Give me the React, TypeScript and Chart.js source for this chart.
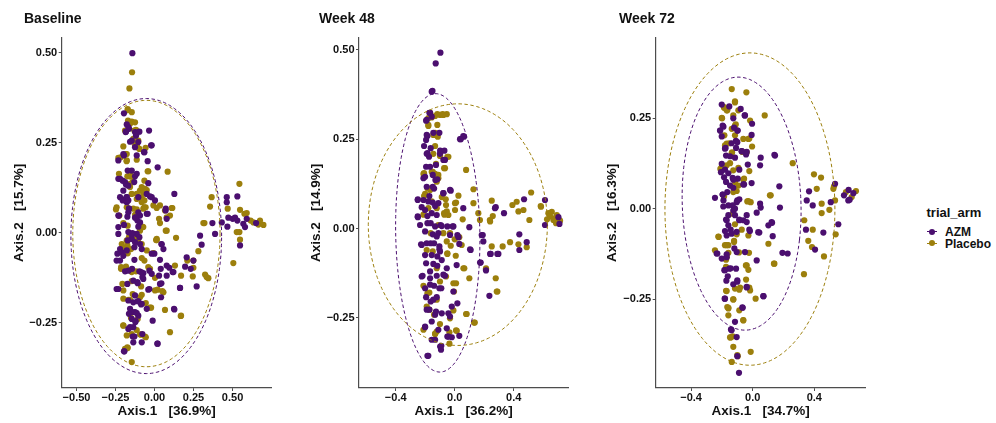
import React, { useEffect, useRef } from "react";
import { Chart, registerables } from "chart.js";

Chart.register(...registerables);

type Pt = [number, number];

// ---------------- DATA ----------------
const armNames = ["AZM", "Placebo"];
const panelTitles = ["Baseline", "Week 48", "Week 72"];
const xAxisTitles = ["Axis.1   [36.9%]", "Axis.1   [36.2%]", "Axis.1   [34.7%]"];
const yAxisTitles = ["Axis.2   [15.7%]", "Axis.2   [14.9%]", "Axis.2   [16.3%]"];

const baselineXTicks = [-0.5, -0.25, 0, 0.25, 0.5];
const baselineYTicks = [-0.25, 0, 0.25, 0.5];
const week48XTicks = [-0.4, 0, 0.4];
const week48YTicks = [-0.25, 0, 0.25, 0.5];
const week72XTicks = [-0.4, 0, 0.4];
const week72YTicks = [-0.25, 0, 0.25];

const baselineXRange = [-0.595, 0.751];
const baselineYRange = [-0.431, 0.542];
const week48XRange = [-0.649, 0.77];
const week48YRange = [-0.446, 0.534];
const week72XRange = [-0.63, 0.734];
const week72YRange = [-0.496, 0.473];

const baselineAZM: Pt[] = [
  [-0.142, 0.499], [-0.196, 0.332], [-0.178, 0.301], [-0.183, 0.281], [-0.163, 0.289], [-0.125, 0.28], [-0.097, 0.281], [-0.035, 0.284], [-0.119, 0.27], [-0.146, 0.256], [-0.125, 0.238], [-0.114, 0.215], [-0.022, 0.243], [-0.067, 0.224], [-0.157, 0.253], [-0.196, 0.215], [0.02, 0.182], [-0.232, 0.15], [-0.204, 0.145], [-0.189, 0.141], [-0.183, 0.134], [-0.168, 0.131], [-0.114, 0.164], [-0.146, 0.173], [-0.125, 0.157], [-0.04, 0.138], [-0.05, 0.108], [0.127, 0.108], [-0.221, 0.099], [-0.204, 0.09], [-0.196, 0.092], [-0.178, 0.099], [-0.018, 0.099], [-0.163, 0.067], [0.072, 0.067], [0.463, 0.099], [0.531, 0.101], [0.463, 0.085],
  [-0.178, 0.085], [-0.232, 0.048], [-0.168, 0.057], [-0.125, 0.042], [-0.11, 0.034], [-0.093, 0.048], [-0.05, 0.053], [-0.196, 0.022], [-0.232, 0.016], [-0.168, 0.002], [-0.114, -0.003], [-0.146, -0.017], [-0.125, -0.026], [-0.097, -0.012], [-0.238, -0.058], [-0.21, -0.054], [-0.178, -0.049], [-0.129, -0.04], [-0.082, -0.045], [-0.018, -0.058], [0.044, -0.031], [0.057, -0.045], [-0.243, -0.077], [-0.221, -0.077], [-0.189, -0.107], [-0.144, -0.1], [-0.097, -0.107], [-0.072, -0.112], [-0.033, -0.105], [0.04, -0.1], [0.078, -0.091], [0.116, -0.109], [0.196, -0.094], [0.232, -0.1], [-0.243, -0.156], [-0.174, -0.142], [-0.136, -0.133], [-0.11, -0.137], [-0.072, -0.128], [-0.033, -0.156], [0.044, -0.14], [0.163, -0.153], [0.27, -0.149], [-0.168, -0.188], [-0.136, -0.193], [-0.108, -0.19], [-0.082, -0.197], [-0.157, -0.211], [-0.125, -0.22], [-0.104, -0.23], [-0.05, -0.211], [-0.146, -0.239], [-0.123, -0.248], [-0.136, -0.262], [-0.168, -0.267], [-0.14, -0.288], [-0.082, -0.304], [-0.012, -0.244], [0.018, -0.308], [-0.196, -0.329], [0.125, -0.211], [0.371, 0.027], [0.388, -0.003], [0.431, 0.029], [0.467, 0.017], [0.473, 0.042], [0.501, 0.039], [0.516, 0.042], [0.531, 0.034], [0.569, 0.025], [0.58, 0.016], [0.591, 0.039], [0.651, 0.027], [0.548, -0.035], [0.302, -0.033], [0.292, -0.008],
  [-0.168, 0.294], [-0.185, 0.28], [-0.115, 0.275], [-0.104, 0.252], [-0.018, 0.243], [-0.065, 0.224], [-0.2, 0.219], [-0.232, 0.201], [-0.044, 0.199], [-0.172, 0.173], [-0.221, 0.15], [-0.13, 0.141], [-0.2, 0.117], [-0.179, 0.099], [-0.168, 0.09], [-0.104, 0.099], [-0.029, 0.101], [0.003, 0.09], [-0.164, 0.067], [-0.104, 0.057], [-0.044, 0.053], [-0.228, 0.048], [-0.174, 0.045], [-0.121, 0.043], [-0.093, 0.029], [-0.104, 0.017], [0.078, 0.039], [0.071, 0.062], [-0.232, -0.003], [-0.142, -0.001],
  [-0.146, -0.005], [-0.172, -0.021], [-0.093, -0.031], [-0.221, -0.045], [-0.2, -0.064], [0.046, -0.032], [-0.001, -0.058], [-0.129, -0.075], [0.206, -0.068], [0.249, -0.077], [0.035, -0.075], [-0.167, -0.105], [-0.086, -0.109], [-0.078, -0.123], [-0.018, -0.114], [0.029, -0.119], [0.078, -0.119], [0.121, -0.109], [0.095, -0.097], [-0.108, -0.14], [0.035, -0.142], [0.164, -0.153], [-0.232, -0.156], [-0.04, -0.158], [-0.125, -0.174], [0.042, -0.179], [-0.104, -0.19], [-0.086, -0.199], [-0.142, -0.22], [-0.114, -0.223], [-0.164, -0.225], [0.127, -0.213], [-0.121, -0.245], [-0.157, -0.262], [-0.129, -0.288], [-0.078, -0.281], [-0.136, -0.304], [0.02, -0.308], [-0.193, -0.329],
];

const baselinePlacebo: Pt[] = [
  [-0.144, 0.446], [-0.161, 0.401], [-0.172, 0.341], [-0.17, 0.312], [-0.146, 0.309], [-0.125, 0.307], [-0.119, 0.286], [-0.189, 0.284], [-0.136, 0.261], [-0.2, 0.24], [-0.119, 0.247], [-0.11, 0.238], [-0.097, 0.233], [-0.178, 0.219], [-0.232, 0.208], [-0.217, 0.21], [-0.178, 0.201], [-0.04, 0.171], [0.084, 0.17], [-0.228, 0.164], [-0.174, 0.157], [-0.153, 0.167], [-0.14, 0.141], [-0.157, 0.127], [-0.061, 0.122], [-0.093, 0.117], [-0.072, 0.113], [-0.146, 0.108], [-0.114, 0.094], [-0.082, 0.099], [-0.065, 0.09], [-0.247, 0.065], [-0.072, 0.067], [0.114, 0.069], [0.366, 0.099], [0.469, 0.067], [0.544, 0.136], [0.548, 0.064],
  [-0.243, 0.071], [-0.225, 0.048], [-0.178, 0.071], [-0.136, 0.067], [-0.057, 0.071], [-0.007, 0.076], [0.035, 0.076], [0.067, 0.062], [0.099, 0.048], [-0.072, 0.016], [-0.093, 0.006], [-0.114, -0.008], [-0.14, -0.012], [-0.178, -0.021], [-0.21, -0.031], [-0.174, -0.035], [-0.151, -0.045], [-0.082, -0.031], [-0.05, -0.049], [-0.007, -0.056], [0.01, -0.02], [0.072, 0.006], [0.313, 0.027], [0.356, 0.073], [0.035, 0.027], [0.078, 0.043], [-0.215, -0.1], [-0.183, -0.094], [-0.146, -0.109], [-0.119, -0.107], [-0.065, -0.077], [-0.04, -0.095], [0.003, -0.125], [0.17, -0.119], [0.21, -0.077], [0.249, -0.077], [0.281, -0.051], [0.245, -0.121], [0.324, -0.116], [0.345, -0.126], [-0.2, -0.16], [-0.168, -0.186], [-0.14, -0.17], [-0.082, -0.172], [-0.029, -0.208], [0.003, -0.16], [0.057, -0.165], [0.067, -0.214], [-0.2, -0.258], [-0.178, -0.285], [-0.146, -0.281], [-0.093, -0.282], [-0.061, -0.288], [0.099, -0.276], [0.168, -0.231], [-0.189, -0.322], [-0.174, -0.318], [-0.146, -0.359], [0.505, -0.084], [0.527, 0.002], [0.548, -0.019], [0.576, 0.053], [0.591, 0.055], [0.616, 0.034], [0.634, 0.029], [0.666, 0.023], [0.698, 0.022], [0.676, 0.034], [0.544, 0.002],
  [-0.172, 0.344], [-0.146, 0.335], [-0.157, 0.303], [-0.13, 0.284], [-0.104, 0.256], [-0.125, 0.242], [-0.057, 0.236], [-0.185, 0.219], [-0.179, 0.199], [-0.114, 0.203], [-0.151, 0.156], [-0.044, 0.171], [-0.157, 0.136], [-0.082, 0.127], [-0.05, 0.119], [-0.065, 0.145], [-0.114, 0.108], [-0.082, 0.085], [-0.065, 0.071], [-0.114, 0.065], [0.014, 0.069], [0.11, 0.069], [-0.125, 0.05], [0.029, 0.039], [-0.2, 0.027], [-0.172, 0.02], [-0.078, 0.017], [-0.104, -0.012], [0.014, -0.017], [0.078, 0.006], [0.32, 0.027],
  [-0.164, -0.012], [-0.104, -0.017], [0.014, -0.02], [0.138, -0.014], [-0.206, -0.04], [-0.172, -0.057], [-0.082, -0.07], [-0.029, -0.1], [-0.214, -0.095], [-0.185, -0.103], [0.131, -0.091], [0.249, -0.097], [0.334, -0.123], [-0.206, -0.142], [-0.146, -0.134], [-0.086, -0.149], [0.02, -0.158], [0.05, -0.162], [-0.2, -0.183], [-0.157, -0.186], [-0.056, -0.195], [-0.093, -0.179], [-0.022, -0.208], [0.17, -0.23], [-0.151, -0.236], [-0.108, -0.239], [-0.2, -0.257], [-0.114, -0.27], [-0.086, -0.283], [-0.056, -0.29], [-0.172, -0.32],
];

const week48AZM: Pt[] = [
  [-0.097, 0.492], [-0.129, 0.462], [-0.151, 0.385], [-0.167, 0.324], [-0.19, 0.304], [-0.156, 0.313], [-0.185, 0.259], [-0.194, 0.248], [-0.208, 0.231], [-0.19, 0.209], [-0.174, 0.201], [-0.099, 0.218], [-0.07, 0.218], [-0.066, 0.192], [-0.194, 0.173], [-0.167, 0.173], [-0.201, 0.145], [-0.149, 0.15], [-0.131, 0.136], [-0.19, 0.117], [-0.14, 0.112], [-0.077, 0.099], [-0.027, 0.106], [-0.251, 0.08], [-0.212, 0.08], [-0.179, 0.076], [-0.149, 0.073], [-0.111, 0.071], [0.041, 0.25], [0.063, 0.257], [0.278, 0.06], [0.47, 0.082], [0.612, 0.08],
  [-0.251, 0.034], [-0.201, 0.052], [-0.156, 0.043], [-0.122, 0.038], [-0.235, 0.01], [-0.185, 0.015], [-0.133, 0.006], [-0.095, 0.01], [-0.05, 0.006], [-0.014, 0.006], [-0.201, -0.008], [-0.149, -0.016], [-0.111, -0.013], [-0.032, -0.018], [-0.228, -0.044], [-0.19, -0.041], [-0.14, -0.041], [-0.104, -0.05], [-0.201, -0.074], [-0.156, -0.074], [-0.118, -0.078], [-0.194, -0.097], [-0.145, -0.099], [-0.088, -0.088], [-0.054, -0.111], [-0.224, -0.134], [-0.167, -0.139], [-0.122, -0.132], [-0.066, -0.132], [-0.201, -0.167], [-0.14, -0.16], [-0.104, -0.167], [-0.194, -0.192], [-0.163, -0.204], [-0.122, -0.192], [-0.02, -0.218], [-0.19, -0.227], [-0.133, -0.241], [-0.088, -0.237], [-0.043, -0.237], [-0.032, -0.246], [-0.201, -0.274], [-0.111, -0.283], [-0.054, -0.279], [-0.05, -0.302], [-0.02, -0.304], [-0.156, -0.311], [-0.099, -0.33], [-0.093, -0.339], [-0.185, -0.356], [0.108, -0.06], [0.183, -0.018], [0.194, -0.036], [0.176, -0.095], [0.24, -0.071], [0.296, -0.071], [0.235, -0.188], [0.438, -0.016], [0.488, -0.038], [0.438, -0.06], [0.612, 0.01], [0.71, 0.013], [0.703, 0.032],
  [-0.156, 0.383], [-0.172, 0.324], [-0.194, 0.302], [-0.19, 0.262], [-0.145, 0.268], [-0.104, 0.268], [0.058, 0.259], [0.036, 0.25], [-0.163, 0.225], [-0.185, 0.211], [-0.1, 0.209], [-0.077, 0.192], [-0.127, 0.178], [-0.212, 0.141], [-0.118, 0.138], [-0.149, 0.117], [-0.032, 0.108], [-0.25, 0.082], [-0.172, 0.091], [-0.077, 0.099], [-0.224, 0.06], [-0.133, 0.063], [0.058, 0.057], [0.273, 0.057], [-0.25, 0.032], [-0.185, 0.035], [-0.163, 0.015], [-0.088, 0.007], [-0.009, 0.006], [0.099, 0.004], [-0.122, -0.022], [0.025, -0.024], [0.334, 0.043],
  [0.018, -0.018], [-0.224, -0.046], [-0.163, -0.041], [-0.104, -0.058], [0.104, -0.058], [0.031, -0.043], [-0.1, -0.064], [-0.118, -0.104], [-0.167, -0.12], [-0.077, -0.129], [-0.218, -0.132], [0.013, -0.102], [0.172, -0.095], [0.212, -0.117], [-0.167, -0.157], [-0.091, -0.167], [-0.009, -0.176], [-0.145, -0.199], [0.018, -0.209], [-0.172, -0.227], [-0.127, -0.232], [-0.156, -0.26], [-0.201, -0.276], [-0.043, -0.302], [0.031, -0.3], [-0.133, -0.311], [-0.091, -0.328], [-0.179, -0.356], [0.244, -0.071], [0.289, -0.071], [0.19, -0.018],
];

const week48Placebo: Pt[] = [
  [-0.179, 0.309], [-0.156, 0.311], [-0.133, 0.315], [-0.099, 0.318], [-0.077, 0.318], [-0.054, 0.32], [-0.179, 0.287], [-0.118, 0.29], [-0.145, 0.262], [-0.133, 0.268], [-0.115, 0.257], [-0.133, 0.231], [-0.099, 0.206], [-0.043, 0.201], [-0.127, 0.181], [-0.066, 0.169], [-0.212, 0.153], [-0.149, 0.159], [-0.133, 0.153], [-0.111, 0.15], [-0.122, 0.131], [0.077, 0.164], [0.127, 0.11], [-0.201, 0.097], [-0.167, 0.108], [0.025, 0.092], [0.009, 0.073], [-0.061, 0.082], [0.251, 0.078], [0.391, 0.066], [0.42, 0.075], [0.518, 0.101], [0.585, 0.061], [-0.122, 0.057],
  [-0.212, 0.039], [-0.179, 0.057], [-0.054, 0.048], [0.002, 0.052], [-0.07, 0.039], [-0.163, -0.013], [-0.077, -0.013], [-0.054, -0.036], [0.0, -0.03], [0.047, -0.046], [-0.19, -0.06], [-0.149, -0.064], [-0.05, -0.069], [0.007, -0.076], [0.059, -0.111], [-0.122, -0.111], [-0.059, -0.134], [-0.009, -0.153], [0.009, -0.153], [-0.005, -0.176], [-0.172, -0.179], [-0.122, -0.199], [-0.19, -0.218], [-0.14, -0.241], [0.077, -0.239], [0.131, -0.263], [-0.212, -0.283], [-0.133, -0.295], [-0.122, -0.288], [-0.036, -0.29], [0.014, -0.286], [0.212, -0.111], [0.278, -0.139], [0.289, -0.176], [0.251, -0.05], [0.325, -0.05], [0.375, -0.038], [0.432, -0.044], [0.488, -0.052], [0.506, 0.024], [0.24, 0.02], [0.258, 0.035], [0.432, 0.048], [0.466, 0.052], [0.583, 0.063], [0.635, 0.043], [0.646, 0.034], [0.669, 0.024], [0.687, 0.015], [0.692, 0.038], [0.658, 0.047], [0.68, 0.029], [0.714, 0.022], [0.626, 0.026], [0.16, 0.043], [0.127, 0.071],
  [-0.167, 0.324], [-0.118, 0.32], [-0.082, 0.32], [-0.179, 0.29], [-0.127, 0.262], [-0.145, 0.209], [-0.1, 0.203], [-0.05, 0.201], [-0.072, 0.169], [-0.208, 0.155], [-0.156, 0.159], [-0.111, 0.141], [-0.185, 0.113], [-0.208, 0.091], [-0.156, 0.076], [-0.088, 0.088], [-0.059, 0.066], [0.002, 0.071], [-0.072, 0.043], [-0.043, 0.038], [0.238, 0.024], [0.171, 0.024], [0.054, 0.026], [-0.111, 0.01], [-0.032, -0.013],
  [-0.032, -0.015], [0.031, -0.024], [-0.027, -0.048], [-0.05, -0.071], [0.065, -0.111], [-0.212, -0.16], [-0.185, -0.181], [-0.1, -0.148], [0.099, -0.139], [-0.009, -0.229], [-0.032, -0.251], [0.081, -0.239], [0.136, -0.263], [-0.172, -0.227], [-0.133, -0.294], [0.009, -0.285], [-0.036, -0.322], [-0.1, -0.267], [0.285, -0.176], [0.212, -0.114],
];

const week72AZM: Pt[] = [
  [-0.201, 0.288], [-0.152, 0.283], [-0.078, 0.276], [-0.126, 0.25], [-0.052, 0.258], [-0.19, 0.227], [-0.004, 0.235], [-0.212, 0.216], [-0.201, 0.2], [-0.097, 0.216], [-0.121, 0.224], [-0.007, 0.204], [-0.18, 0.166], [-0.108, 0.168], [-0.1, 0.184], [-0.071, 0.159], [-0.039, 0.157], [-0.173, 0.147], [-0.147, 0.145], [-0.115, 0.141], [-0.032, 0.122], [0.048, 0.12], [0.141, 0.149], [-0.201, 0.124], [-0.206, 0.101], [-0.186, 0.087], [-0.13, 0.085], [-0.097, 0.083], [-0.173, 0.074], [-0.061, 0.067], [-0.007, 0.071], [-0.147, 0.064], [-0.126, 0.058], [0.173, 0.062], [-0.165, 0.046], [-0.195, 0.039], [-0.245, 0.03], [-0.087, 0.026], [-0.19, 0.023], [-0.104, 0.018], [0.366, 0.048], [0.351, 0.023], [0.39, 0.009], [0.535, 0.069], [0.593, 0.037], [0.623, 0.052], [0.63, 0.025], [0.654, 0.043], [0.052, 0.003], [0.177, 0.003],
  [-0.158, 0.009], [-0.115, 0.0], [-0.039, -0.018], [0.026, -0.011], [-0.158, -0.018], [-0.173, -0.03], [-0.115, -0.018], [-0.087, -0.032], [-0.061, -0.032], [-0.158, -0.046], [-0.18, -0.062], [-0.143, -0.058], [-0.104, -0.064], [-0.022, -0.058], [0.043, -0.066], [0.102, -0.046], [0.126, -0.039], [0.13, -0.076], [-0.169, -0.074], [-0.234, -0.124], [-0.201, -0.138], [-0.169, -0.134], [-0.119, -0.11], [-0.104, -0.12], [-0.05, -0.12], [0.026, -0.143], [0.193, -0.122], [0.227, -0.124], [-0.184, -0.17], [-0.152, -0.166], [-0.108, -0.166], [-0.162, -0.187], [-0.1, -0.198], [-0.126, -0.209], [-0.039, -0.218], [-0.18, -0.249], [0.069, -0.242], [-0.067, -0.273], [-0.115, -0.313], [-0.141, -0.334], [-0.104, -0.355], [-0.089, -0.454], [0.346, -0.058], [0.459, -0.066], [0.405, -0.113], [0.556, -0.043], [0.507, 0.018], [0.621, 0.023],
  [-0.195, 0.23], [-0.211, 0.216], [-0.1, 0.216], [-0.05, 0.258], [-0.137, 0.181], [-0.109, 0.188], [-0.176, 0.168], [-0.072, 0.159], [-0.043, 0.15], [0.052, 0.141], [0.145, 0.147], [-0.18, 0.108], [-0.158, 0.098], [-0.087, 0.108], [-0.056, 0.067], [-0.126, 0.08], [-0.195, 0.039], [-0.1, 0.023], [0.048, 0.014], [-0.191, 0.006], [-0.13, 0.009], [-0.126, -0.005], [-0.169, -0.032], [-0.087, -0.03], [-0.039, -0.037], [0.123, -0.037], [-0.137, -0.069], [-0.018, -0.062], [0.036, -0.065], [-0.23, -0.124], [-0.169, -0.126], [-0.18, -0.17], [-0.143, -0.165], [-0.171, -0.199], [-0.1, -0.202], [-0.039, -0.216], [0.07, -0.242], [-0.182, -0.249], [-0.065, -0.274], [-0.137, -0.336], [-0.1, -0.408],
];

const week72Placebo: Pt[] = [
  [-0.136, 0.331], [-0.041, 0.322], [-0.115, 0.297], [-0.186, 0.281], [-0.165, 0.272], [-0.093, 0.272], [-0.126, 0.258], [-0.199, 0.25], [0.078, 0.258], [-0.115, 0.23], [-0.017, 0.244], [-0.136, 0.221], [-0.115, 0.203], [-0.184, 0.203], [-0.061, 0.193], [-0.028, 0.193], [-0.169, 0.18], [-0.004, 0.172], [-0.136, 0.154], [-0.067, 0.157], [-0.201, 0.115], [-0.169, 0.12], [-0.147, 0.126], [-0.093, 0.113], [-0.022, 0.104], [0.26, 0.126], [-0.115, 0.074], [-0.093, 0.064], [-0.056, 0.083], [-0.104, 0.049], [-0.126, 0.046], [-0.035, 0.02], [-0.013, 0.018], [0.117, 0.037], [0.398, 0.095], [0.444, 0.086], [0.416, 0.055], [0.524, 0.055], [0.528, 0.062], [0.448, 0.014], [0.535, 0.023], [0.606, 0.046], [0.643, 0.032], [0.671, 0.049], [0.498, -0.003],
  [-0.13, -0.014], [-0.115, -0.043], [-0.071, -0.058], [-0.104, -0.071], [-0.121, -0.089], [-0.158, -0.101], [-0.18, -0.101], [-0.221, -0.078], [-0.245, -0.115], [-0.158, -0.122], [-0.173, -0.141], [-0.089, -0.121], [-0.024, -0.122], [-0.039, -0.157], [-0.028, -0.169], [0.102, -0.097], [0.141, -0.152], [-0.173, -0.161], [-0.043, -0.196], [-0.115, -0.221], [-0.082, -0.218], [-0.022, -0.218], [-0.017, -0.226], [-0.173, -0.227], [-0.126, -0.251], [0.019, -0.249], [-0.165, -0.272], [-0.158, -0.276], [-0.087, -0.281], [-0.158, -0.295], [-0.061, -0.308], [-0.147, -0.356], [-0.13, -0.353], [-0.126, -0.382], [-0.097, -0.408], [-0.013, -0.396], [-0.136, -0.424], [0.335, -0.032], [0.361, -0.089], [0.39, -0.058], [0.385, -0.106], [0.448, -0.012], [0.463, -0.132], [0.539, -0.071], [0.333, -0.181],
  [-0.115, 0.294], [-0.186, 0.279], [-0.169, 0.272], [-0.201, 0.251], [-0.11, 0.233], [-0.022, 0.194], [-0.152, 0.181], [-0.18, 0.175], [-0.134, 0.156], [-0.039, 0.156], [-0.21, 0.11], [-0.126, 0.106], [-0.061, 0.08], [-0.186, 0.034], [-0.028, 0.021], [0.112, 0.037], [-0.223, -0.077], [-0.169, -0.101], [-0.121, -0.092], [-0.028, -0.074], [0.138, -0.152], [-0.169, -0.134], [-0.044, -0.157], [-0.169, -0.228], [-0.087, -0.224], [-0.126, -0.251], [-0.158, -0.274], [-0.061, -0.309], [-0.143, -0.356], [-0.1, -0.405],
];

// confidence ellipses: centre, semi-axes (data units), rotation (deg)
type Ell = { cx: number; cy: number; a: number; b: number; angle: number };
const baselineEllipseAZM: Ell = { cx: -0.053, cy: -0.009, a: 0.483, b: 0.382, angle: 0 };
const baselineEllipsePlacebo: Ell = { cx: -0.052, cy: -0.002, a: 0.472, b: 0.37, angle: 0 };
const week48EllipseAZM: Ell = { cx: -0.115, cy: -0.012, a: 0.39, b: 0.285, angle: 94.5 };
const week48EllipsePlacebo: Ell = { cx: 0.021, cy: 0.011, a: 0.607, b: 0.338, angle: 0 };
const week72EllipseAZM: Ell = { cx: -0.072, cy: 0.014, a: 0.389, b: 0.347, angle: -15 };
const week72EllipsePlacebo: Ell = { cx: -0.018, cy: -0.001, a: 0.552, b: 0.432, angle: 0 };

// ---------------- STYLE / LAYOUT ----------------
const FONT = "'Liberation Sans', Arial, Helvetica, sans-serif";
const AZM_COLOR = "#4b0f6f";
const PLACEBO_COLOR = "#9c7f0c";
const AXIS_COLOR = "#4d4d4d";
const CANVAS_H = 423;
const AREA_TOP = 37.7;
const AREA_BOTTOM = 388;
const PAD_BOTTOM = 3.4;

type Spec = {
  left: number; width: number; padL: number; areaLeft: number; areaRight: number;
  xRange: number[]; yRange: number[]; xTicks: number[]; yTicks: number[]; xDec: number;
  azm: Pt[]; placebo: Pt[]; ellAZM: Ell; ellPlacebo: Ell; xTitle: string; yTitle: string;
};

const specs: Spec[] = [
  { left: 0, width: 300, padL: 10.9, areaLeft: 61.7, areaRight: 271.7, xRange: baselineXRange, yRange: baselineYRange, xTicks: baselineXTicks, yTicks: baselineYTicks, xDec: 2, azm: baselineAZM, placebo: baselinePlacebo, ellAZM: baselineEllipseAZM, ellPlacebo: baselineEllipsePlacebo, xTitle: xAxisTitles[0], yTitle: yAxisTitles[0] },
  { left: 300, width: 300, padL: 7.9, areaLeft: 359, areaRight: 568.3, xRange: week48XRange, yRange: week48YRange, xTicks: week48XTicks, yTicks: week48YTicks, xDec: 1, azm: week48AZM, placebo: week48Placebo, ellAZM: week48EllipseAZM, ellPlacebo: week48EllipsePlacebo, xTitle: xAxisTitles[1], yTitle: yAxisTitles[1] },
  { left: 600, width: 300, padL: 4.4, areaLeft: 655.7, areaRight: 865.7, xRange: week72XRange, yRange: week72YRange, xTicks: week72XTicks, yTicks: week72YTicks, xDec: 1, azm: week72AZM, placebo: week72Placebo, ellAZM: week72EllipseAZM, ellPlacebo: week72EllipsePlacebo, xTitle: xAxisTitles[2], yTitle: yAxisTitles[2] },
];

const titleLefts = [24, 319, 619];

function fmt(v: number, d: number) {
  const s = Math.abs(v).toFixed(d);
  return v < -1e-9 ? "\u2212" + s : s;
}

function ellipsePlugin(items: { e: Ell; color: string }[]) {
  return {
    id: "ellipses",
    afterDatasetsDraw(chart: any) {
      const { ctx } = chart;
      const xs = chart.scales.x;
      const ys = chart.scales.y;
      for (const { e, color } of items) {
        const rad = (e.angle * Math.PI) / 180;
        ctx.save();
        ctx.strokeStyle = color;
        ctx.lineWidth = 1;
        ctx.setLineDash([3.5, 2.5]);
        ctx.beginPath();
        const n = 180;
        for (let i = 0; i <= n; i++) {
          const t = (i / n) * Math.PI * 2;
          const dx = e.a * Math.cos(t);
          const dy = e.b * Math.sin(t);
          const vx = e.cx + dx * Math.cos(rad) - dy * Math.sin(rad);
          const vy = e.cy + dx * Math.sin(rad) + dy * Math.cos(rad);
          const px = xs.getPixelForValue(vx);
          const py = ys.getPixelForValue(vy);
          if (i === 0) ctx.moveTo(px, py);
          else ctx.lineTo(px, py);
        }
        ctx.stroke();
        ctx.restore();
      }
    },
  };
}

function Panel({ spec }: { spec: Spec }) {
  const ref = useRef<HTMLCanvasElement>(null);
  useEffect(() => {
    const tickFont = { family: FONT, size: 11, weight: "bold" as const };
    const titleFont = { family: FONT, size: 13.5, weight: "bold" as const };
    const chart = new Chart(ref.current!, {
      type: "scatter",
      data: {
        datasets: [
          { label: armNames[0], data: spec.azm.map(([x, y]) => ({ x, y })), backgroundColor: AZM_COLOR, borderWidth: 0, pointRadius: 3.1 },
          { label: armNames[1], data: spec.placebo.map(([x, y]) => ({ x, y })), backgroundColor: PLACEBO_COLOR, borderWidth: 0, pointRadius: 3.1 },
        ],
      },
      options: {
        animation: false,
        responsive: false,
        events: [],
        layout: { padding: { left: spec.padL, right: spec.width - (spec.areaRight - spec.left), top: AREA_TOP, bottom: PAD_BOTTOM } },
        plugins: { legend: { display: false }, tooltip: { enabled: false }, title: { display: false } },
        scales: {
          x: {
            type: "linear",
            min: spec.xRange[0],
            max: spec.xRange[1],
            afterBuildTicks: (s: any) => { s.ticks = spec.xTicks.map((v) => ({ value: v })); },
            afterFit: (s: any) => { s.height = CANVAS_H - PAD_BOTTOM - AREA_BOTTOM; },
            ticks: { callback: (v: any) => fmt(Number(v), spec.xDec), font: tickFont, color: "#111", padding: 0, autoSkip: false, maxRotation: 0 },
            grid: { drawOnChartArea: false, color: AXIS_COLOR, tickLength: 3 },
            border: { color: AXIS_COLOR, width: 1.2 },
            title: { display: true, text: spec.xTitle, font: titleFont, color: "#111", padding: { top: 0, bottom: 0 } },
          },
          y: {
            type: "linear",
            min: spec.yRange[0],
            max: spec.yRange[1],
            afterBuildTicks: (s: any) => { s.ticks = spec.yTicks.map((v) => ({ value: v })); },
            afterFit: (s: any) => { s.width = spec.areaLeft - spec.left - spec.padL; },
            ticks: { callback: (v: any) => fmt(Number(v), 2), font: tickFont, color: "#111", padding: 1.5, autoSkip: false },
            grid: { drawOnChartArea: false, color: AXIS_COLOR, tickLength: 3 },
            border: { color: AXIS_COLOR, width: 1.2 },
            title: { display: true, text: spec.yTitle, font: titleFont, color: "#111", padding: { top: 0, bottom: 0 } },
          },
        },
      },
      plugins: [
        ellipsePlugin([
          { e: spec.ellAZM, color: AZM_COLOR },
          { e: spec.ellPlacebo, color: PLACEBO_COLOR },
        ]),
      ],
    } as any);
    return () => chart.destroy();
  }, [spec]);
  return (
    <canvas
      ref={ref}
      width={spec.width}
      height={CANVAS_H}
      style={{ position: "absolute", left: spec.left, top: 0, width: spec.width, height: CANVAS_H }}
    />
  );
}

function LegendKey({ color }: { color: string }) {
  return (
    <div style={{ position: "relative", width: 10, height: 8 }}>
      <div style={{ position: "absolute", left: 0, top: 3.5, width: 10, height: 1, background: color }} />
      <div style={{ position: "absolute", left: 2, top: 1, width: 6, height: 6, borderRadius: "50%", background: color }} />
    </div>
  );
}

export default function App() {
  return (
    <div style={{ position: "absolute", left: 0, top: 0, width: 996, height: CANVAS_H, background: "#fff", fontFamily: FONT, color: "#111" }}>
      {specs.map((s, i) => (
        <Panel key={i} spec={s} />
      ))}
      {panelTitles.map((t, i) => (
        <div key={t} style={{ position: "absolute", left: titleLefts[i], top: 10.5, fontSize: 14, lineHeight: "14px", fontWeight: "bold", whiteSpace: "nowrap" }}>
          {t}
        </div>
      ))}
      <div style={{ position: "absolute", left: 926.5, top: 205.5, fontSize: 13, lineHeight: "13px", fontWeight: "bold" }}>trial_arm</div>
      {[AZM_COLOR, PLACEBO_COLOR].map((c, i) => (
        <div key={i} style={{ position: "absolute", left: 927, top: 227.7 + i * 11.6, display: "flex", alignItems: "center", height: 8 }}>
          <LegendKey color={c} />
        </div>
      ))}
      {armNames.map((n, i) => (
        <div key={n} style={{ position: "absolute", left: 945, top: 225.8 + i * 12, fontSize: 12, lineHeight: "12px", fontWeight: "bold" }}>
          {n}
        </div>
      ))}
    </div>
  );
}
